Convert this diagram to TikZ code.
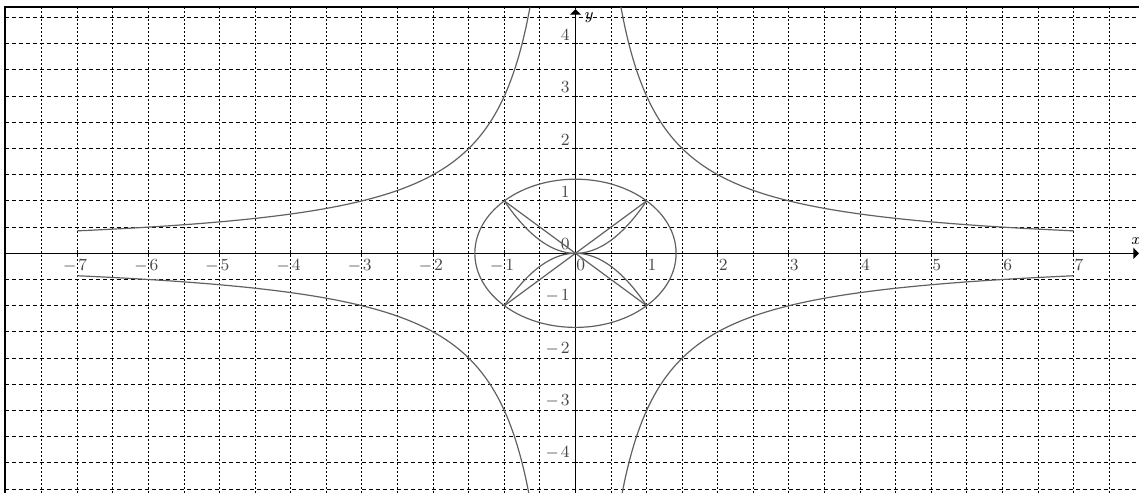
\documentclass[tikz,border=0pt]{standalone}
\usetikzlibrary{arrows.meta}
\begin{document}
\begin{tikzpicture}[x=35.58pt,y=26.2pt,
  gridh/.style={line width=0.5pt, dash pattern=on 2pt off 1.5pt},
  gridv/.style={line width=0.5pt, dash pattern=on 1pt off 1pt},
  axisline/.style={line width=0.7pt, -{Triangle[length=2.8pt,width=5.5pt]}},
  curve/.style={line width=0.6pt, draw=black!62},
  lbl/.style={font=\fontsize{8.5}{9}\selectfont, text=black!72, inner sep=0pt},
  xlbl/.style={lbl, anchor=north west, xshift=0.3pt, yshift=-2.8pt},
  ylbl/.style={lbl, anchor=south east, xshift=-2.75pt, yshift=1.5pt},
  tickline/.style={line width=0.5pt}
]
\useasboundingbox (-8.087,-4.574) rectangle (7.919,4.834);
% grid
\foreach \y in {-4.5,-4,...,4.6} \draw[gridh] (-8.017,\y) -- (7.95,\y);
\foreach \x in {-7.5,-7,...,7.6} \draw[gridv] (\x,-4.65) -- (\x,4.70);
% frame
\draw[line width=1pt] (-8.017,-4.65) -- (-8.017,4.70) -- (7.95,4.70);
% axes
\coordinate (xs) at (-8.017,0);
\coordinate (xe) at (7.919,0);
\coordinate (ys) at (0,-4.65);
\coordinate (ye) at (0,4.66);
\draw[axisline] (xs) -- (xe);
\draw[axisline] (ys) -- (ye);
\node[lbl, text=black] (xname) at (7.88,0.24) {$x$};
\node[lbl, text=black] (yname) at (0.19,4.5) {$y$};
% ticks
\foreach \i in {-7,...,7} \draw[tickline] (\i,0) ++(0,-1.5pt) -- ++(0,3pt);
\foreach \i in {-4,...,4} \draw[tickline] (0,\i) ++(-1.5pt,0) -- ++(3pt,0);
% x labels
\foreach \i in {-7,...,-1} {
  \pgfmathtruncatemacro\ai{abs(\i)}
  \node[xlbl] (xn\ai m) at (\i,0) {\llap{$-$\hspace{1pt}}\ai};
}
\foreach \i in {0,...,7} \node[xlbl] (xn\i) at (\i,0) {\i};
% y labels
\foreach \i in {1,...,4} \node[ylbl] (yn\i) at (0,\i) {\i};
\foreach \i in {-4,...,-1} {
  \pgfmathtruncatemacro\ai{abs(\i)}
  \node[ylbl] (yn\ai m) at (0,\i) {$-$\hspace{1pt}\ai};
}
\node[ylbl] (yn0) at (0,0) {0};
% hyperbolas |xy| = 3
\draw[curve] plot[domain=0.638:7, samples=120, smooth] (\x,{3/\x});
\draw[curve] plot[domain=-7:-0.638, samples=120, smooth] (\x,{-3/\x});
\draw[curve] plot[domain=0.65:7, samples=120, smooth] (\x,{-3/\x});
\draw[curve] plot[domain=-7:-0.65, samples=120, smooth] (\x,{3/\x});
% circle x^2+y^2=2
\draw[curve] (0,0) ellipse [x radius=1.41421, y radius=1.41421];
% diagonals and parabolas
\draw[curve] (-1,1) -- (1,-1);
\draw[curve] (-1,-1) -- (1,1);
\draw[curve] plot[domain=-1:1, samples=60, smooth] (\x,{\x*\x});
\draw[curve] plot[domain=-1:1, samples=60, smooth] (\x,{-\x*\x});
\end{tikzpicture}
\end{document}
